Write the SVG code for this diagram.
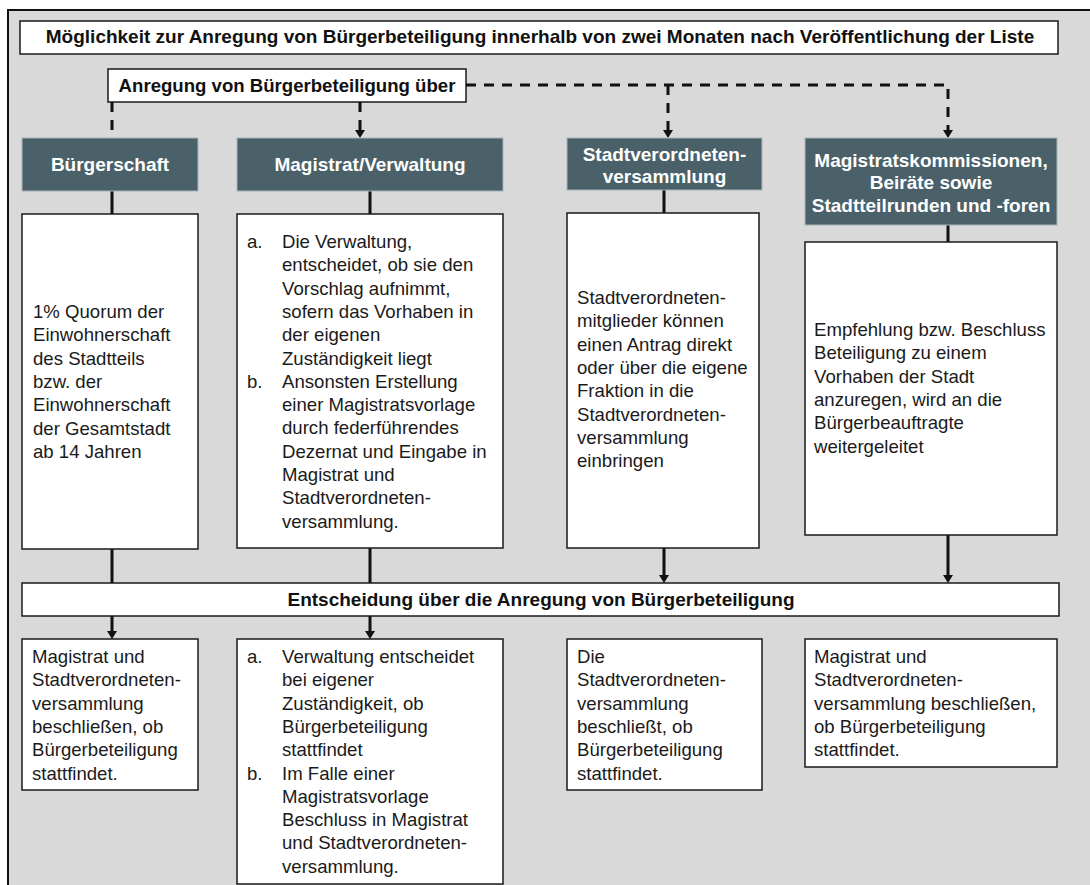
<svg xmlns="http://www.w3.org/2000/svg" width="1090" height="885" viewBox="0 0 1090 885">
<style>
.frame{fill:#d9d9d9;stroke:#111;stroke-width:2}
.box{fill:#fff;stroke:#1a1a1a;stroke-width:1.5}
.hdr{fill:#4a6169;stroke:#a9b4b8;stroke-width:1}
.t{font-family:"Liberation Sans",Arial,sans-serif;font-size:18.6px;fill:#1a1a1a}
.tb{font-family:"Liberation Sans",Arial,sans-serif;font-size:19px;font-weight:bold;fill:#111}
.th{font-family:"Liberation Sans",Arial,sans-serif;font-size:19px;font-weight:bold;fill:#fff}
.solid{stroke:#111;stroke-width:3;fill:none}
.dash{stroke:#111;stroke-width:3;fill:none;stroke-dasharray:10 8}
.ah{fill:#111}
</style>
<rect class="frame" x="8" y="10" width="1100" height="890"/>
<g id="title">
<rect class="box" x="20" y="21" width="1038" height="33"/>
<text class="tb" x="540" y="43" text-anchor="middle">Möglichkeit zur Anregung von Bürgerbeteiligung innerhalb von zwei Monaten nach Veröffentlichung der Liste</text>
</g>
<g id="anregung">
<rect class="box" x="108" y="69" width="358" height="33"/>
<text class="tb" x="287" y="92" text-anchor="middle" style="font-size:18.6px">Anregung von Bürgerbeteiligung über</text>
</g>
<g id="connectors">
<path class="dash" d="M466 85 H948 V130"/>
<path class="dash" d="M668 85 V130"/>
<path class="dash" d="M112 102 V138"/>
<path class="dash" d="M360 102 V130"/>
<polygon class="ah" points="355,130 365,130 360,138"/>
<polygon class="ah" points="663,130 673,130 668,138"/>
<polygon class="ah" points="943,130 953,130 948,138"/>
<path class="solid" d="M112 191 V214 M370 191 V214 M664 190 V213 M948 225 V242"/>
<path class="solid" d="M112 549 V583 M370 548 V583 M664 548 V575 M948 535 V575"/>
<polygon class="ah" points="659,575 669,575 664,583"/>
<polygon class="ah" points="943,575 953,575 948,583"/>
<path class="solid" d="M112 616 V631 M370 616 V631"/>
<polygon class="ah" points="107,631 117,631 112,639"/>
<polygon class="ah" points="365,631 375,631 370,639"/>
</g>
<g id="h-buergerschaft">
<rect class="hdr" x="22" y="138" width="176" height="53"/>
<text class="th" x="110" y="171" text-anchor="middle">Bürgerschaft</text>
</g>
<g id="h-magistrat">
<rect class="hdr" x="237" y="138" width="266" height="53"/>
<text class="th" x="370" y="171" text-anchor="middle">Magistrat/Verwaltung</text>
</g>
<g id="h-stvv">
<rect class="hdr" x="567" y="138" width="195" height="52"/>
<text class="th" x="664.5" y="161" text-anchor="middle">Stadtverordneten-</text>
<text class="th" x="664.5" y="183" text-anchor="middle">versammlung</text>
</g>
<g id="h-kommissionen">
<rect class="hdr" x="805" y="138" width="252" height="87"/>
<text class="th" x="931" y="167" text-anchor="middle">Magistratskommissionen,</text>
<text class="th" x="931" y="189" text-anchor="middle">Beiräte sowie</text>
<text class="th" x="931" y="212" text-anchor="middle">Stadtteilrunden und -foren</text>
</g>
<g id="b-buergerschaft">
<rect class="box" x="22" y="214" width="176" height="335"/>
<text class="t" x="33" y="318">
<tspan x="33" dy="0">1% Quorum der</tspan>
<tspan x="33" dy="23.3">Einwohnerschaft</tspan>
<tspan x="33" dy="23.3">des Stadtteils</tspan>
<tspan x="33" dy="23.3">bzw. der</tspan>
<tspan x="33" dy="23.3">Einwohnerschaft</tspan>
<tspan x="33" dy="23.3">der Gesamtstadt</tspan>
<tspan x="33" dy="23.3">ab 14 Jahren</tspan>
</text>
</g>
<g id="b-magistrat">
<rect class="box" x="237" y="214" width="266" height="334"/>
<text class="t" x="247" y="248">a.</text>
<text class="t" x="247" y="248" dy="139.8">b.</text>
<text class="t" x="282" y="248">
<tspan x="282" dy="0">Die Verwaltung,</tspan>
<tspan x="282" dy="23.3">entscheidet, ob sie den</tspan>
<tspan x="282" dy="23.3">Vorschlag aufnimmt,</tspan>
<tspan x="282" dy="23.3">sofern das Vorhaben in</tspan>
<tspan x="282" dy="23.3">der eigenen</tspan>
<tspan x="282" dy="23.3">Zuständigkeit liegt</tspan>
<tspan x="282" dy="23.3">Ansonsten Erstellung</tspan>
<tspan x="282" dy="23.3">einer Magistratsvorlage</tspan>
<tspan x="282" dy="23.3">durch federführendes</tspan>
<tspan x="282" dy="23.3">Dezernat und Eingabe in</tspan>
<tspan x="282" dy="23.3">Magistrat und</tspan>
<tspan x="282" dy="23.3">Stadtverordneten-</tspan>
<tspan x="282" dy="23.3">versammlung.</tspan>
</text>
</g>
<g id="b-stvv">
<rect class="box" x="567" y="213" width="192" height="335"/>
<text class="t" x="577" y="304">
<tspan x="577" dy="0">Stadtverordneten-</tspan>
<tspan x="577" dy="23.3">mitglieder können</tspan>
<tspan x="577" dy="23.3">einen Antrag direkt</tspan>
<tspan x="577" dy="23.3">oder über die eigene</tspan>
<tspan x="577" dy="23.3">Fraktion in die</tspan>
<tspan x="577" dy="23.3">Stadtverordneten-</tspan>
<tspan x="577" dy="23.3">versammlung</tspan>
<tspan x="577" dy="23.3">einbringen</tspan>
</text>
</g>
<g id="b-kommissionen">
<rect class="box" x="805" y="242" width="252" height="293"/>
<text class="t" x="814" y="336">
<tspan x="814" dy="0">Empfehlung bzw. Beschluss</tspan>
<tspan x="814" dy="23.3">Beteiligung zu einem</tspan>
<tspan x="814" dy="23.3">Vorhaben der Stadt</tspan>
<tspan x="814" dy="23.3">anzuregen, wird an die</tspan>
<tspan x="814" dy="23.3">Bürgerbeauftragte</tspan>
<tspan x="814" dy="23.3">weitergeleitet</tspan>
</text>
</g>
<g id="entscheidung">
<rect class="box" x="22" y="583" width="1037" height="33"/>
<text class="tb" x="541" y="606" text-anchor="middle">Entscheidung über die Anregung von Bürgerbeteiligung</text>
</g>
<g id="e-buergerschaft">
<rect class="box" x="22" y="639" width="176" height="151"/>
<text class="t" x="32" y="663">
<tspan x="32" dy="0">Magistrat und</tspan>
<tspan x="32" dy="23.3">Stadtverordneten-</tspan>
<tspan x="32" dy="23.3">versammlung</tspan>
<tspan x="32" dy="23.3">beschließen, ob</tspan>
<tspan x="32" dy="23.3">Bürgerbeteiligung</tspan>
<tspan x="32" dy="23.3">stattfindet.</tspan>
</text>
</g>
<g id="e-magistrat">
<rect class="box" x="237" y="639" width="266" height="245"/>
<text class="t" x="247" y="663">a.</text>
<text class="t" x="247" y="663" dy="116.5">b.</text>
<text class="t" x="282" y="663">
<tspan x="282" dy="0">Verwaltung entscheidet</tspan>
<tspan x="282" dy="23.3">bei eigener</tspan>
<tspan x="282" dy="23.3">Zuständigkeit, ob</tspan>
<tspan x="282" dy="23.3">Bürgerbeteiligung</tspan>
<tspan x="282" dy="23.3">stattfindet</tspan>
<tspan x="282" dy="23.3">Im Falle einer</tspan>
<tspan x="282" dy="23.3">Magistratsvorlage</tspan>
<tspan x="282" dy="23.3">Beschluss in Magistrat</tspan>
<tspan x="282" dy="23.3">und Stadtverordneten-</tspan>
<tspan x="282" dy="23.3">versammlung.</tspan>
</text>
</g>
<g id="e-stvv">
<rect class="box" x="567" y="639" width="195" height="151"/>
<text class="t" x="577" y="663">
<tspan x="577" dy="0">Die</tspan>
<tspan x="577" dy="23.3">Stadtverordneten-</tspan>
<tspan x="577" dy="23.3">versammlung</tspan>
<tspan x="577" dy="23.3">beschließt, ob</tspan>
<tspan x="577" dy="23.3">Bürgerbeteiligung</tspan>
<tspan x="577" dy="23.3">stattfindet.</tspan>
</text>
</g>
<g id="e-kommissionen">
<rect class="box" x="805" y="639" width="252" height="128"/>
<text class="t" x="814" y="663">
<tspan x="814" dy="0">Magistrat und</tspan>
<tspan x="814" dy="23.3">Stadtverordneten-</tspan>
<tspan x="814" dy="23.3">versammlung beschließen,</tspan>
<tspan x="814" dy="23.3">ob Bürgerbeteiligung</tspan>
<tspan x="814" dy="23.3">stattfindet.</tspan>
</text>
</g>
</svg>
